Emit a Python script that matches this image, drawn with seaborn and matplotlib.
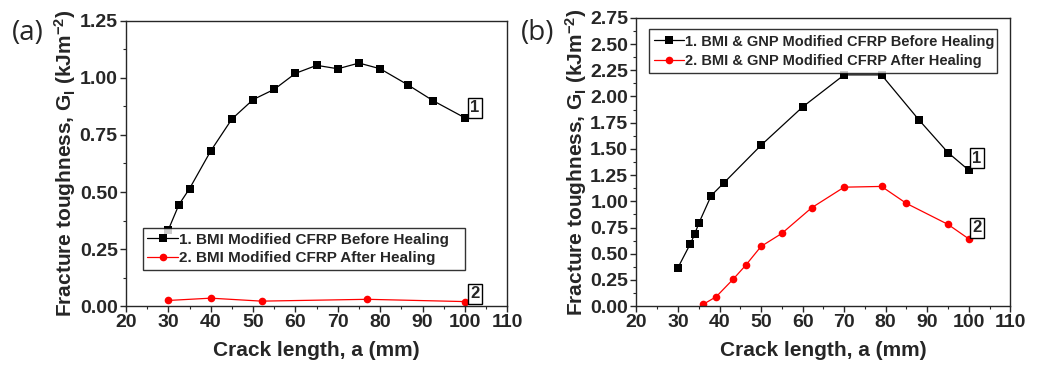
import pandas as pd
import matplotlib.pyplot as plt
import seaborn as sns
from matplotlib.ticker import MultipleLocator

# panel (a): BMI modified CFRP
a_before_x = [30, 32.5, 35, 40, 45, 50, 55, 60, 65, 70, 75, 80, 86.5, 92.5, 100]
a_before_y = [0.335, 0.445, 0.515, 0.68, 0.82, 0.905, 0.95, 1.02, 1.055, 1.04, 1.065, 1.04, 0.97, 0.90, 0.825]
a_after_x = [30, 40, 52, 77, 100]
a_after_y = [0.025, 0.035, 0.022, 0.030, 0.020]

# panel (b): BMI & GNP modified CFRP
b_before_x = [30, 33, 34, 35, 38, 41, 50, 60, 70, 79, 88, 95, 100]
b_before_y = [0.368, 0.597, 0.684, 0.79, 1.055, 1.174, 1.535, 1.90, 2.206, 2.206, 1.777, 1.465, 1.297]
b_after_x = [36, 39.2, 43.3, 46.3, 50, 55, 62.2, 70, 79, 85, 95, 100]
b_after_y = [0.016, 0.09, 0.258, 0.39, 0.57, 0.694, 0.939, 1.135, 1.142, 0.98, 0.78, 0.642]

labels_a = ['1. BMI Modified CFRP Before Healing', '2. BMI Modified CFRP After Healing']
labels_b = ['1. BMI & GNP Modified CFRP Before Healing', '2. BMI & GNP Modified CFRP After Healing']

sns.set_style('ticks')
plt.rcParams['font.family'] = ['Liberation Sans', 'DejaVu Sans']
plt.rcParams['font.weight'] = 'bold'
plt.rcParams['mathtext.fontset'] = 'custom'
plt.rcParams['mathtext.rm'] = 'Liberation Sans:bold'
plt.rcParams['mathtext.bf'] = 'Liberation Sans:bold'
plt.rcParams['mathtext.default'] = 'bf'

fig = plt.figure(figsize=(10.59, 3.72), dpi=100)
ax1 = fig.add_axes([0.119, 0.177, 0.360, 0.767])
ax2 = fig.add_axes([0.601, 0.177, 0.353, 0.775])


def draw(ax, bx, by, rx, ry, labels):
    df = pd.DataFrame({
        'x': list(bx) + list(rx),
        'y': list(by) + list(ry),
        'series': [labels[0]] * len(bx) + [labels[1]] * len(rx),
    })
    sns.lineplot(data=df, x='x', y='y', hue='series', style='series',
                 palette={labels[0]: 'black', labels[1]: 'red'},
                 markers={labels[0]: 's', labels[1]: 'o'},
                 dashes=False, markersize=5.5, markeredgewidth=0,
                 linewidth=0.9, sort=False, ax=ax)


draw(ax1, a_before_x, a_before_y, a_after_x, a_after_y, labels_a)
draw(ax2, b_before_x, b_before_y, b_after_x, b_after_y, labels_b)

for ax, ymax in [(ax1, 1.25), (ax2, 2.75)]:
    ax.set_xlim(20, 110)
    ax.set_ylim(0, ymax)
    ax.xaxis.set_major_locator(MultipleLocator(10))
    ax.xaxis.set_minor_locator(MultipleLocator(5))
    ax.yaxis.set_major_locator(MultipleLocator(0.25))
    ax.yaxis.set_minor_locator(MultipleLocator(0.125))
    ax.yaxis.set_major_formatter(plt.FormatStrFormatter('%.2f'))
    ax.tick_params(which='major', length=4, width=1, labelsize=14, pad=2)
    ax.tick_params(which='minor', length=2.5, width=0.8)
    for s in ax.spines.values():
        s.set_visible(True)
        s.set_linewidth(1)
    ax.set_xlabel('Crack length, a (mm)', fontsize=15, fontweight='bold', labelpad=7)
    ax.set_ylabel(r'Fracture toughness, G$_\mathregular{I}$ (kJm$^{-2}$)',
                  fontsize=15, fontweight='bold', labelpad=1)

leg1 = ax1.legend(loc='lower left', bbox_to_anchor=(0.024, 0.10, 0.885, 0.145),
                  mode='expand', fontsize=11, frameon=True, fancybox=False,
                  edgecolor='black', handlelength=2.0, borderpad=0.3,
                  labelspacing=0.3, handletextpad=0.1)
leg2 = ax2.legend(loc='upper left', bbox_to_anchor=(0.015, 0.985, 0.97, 0.0),
                  mode='expand', fontsize=10.5, frameon=True, fancybox=False,
                  edgecolor='black', handlelength=2.0, borderpad=0.35,
                  labelspacing=0.35, handletextpad=0.1)
for leg in (leg1, leg2):
    leg.get_frame().set_linewidth(1)
    leg.set_title(None)

box = dict(boxstyle='square,pad=0.15', fc='white', ec='black', lw=1)
ax1.text(102.3, 0.87, '1', fontsize=12, fontweight='bold', ha='center', va='center', bbox=box)
ax1.text(102.3, 0.055, '2', fontsize=12, fontweight='bold', ha='center', va='center', bbox=box)
ax2.text(102.0, 1.41, '1', fontsize=12, fontweight='bold', ha='center', va='center', bbox=box)
ax2.text(102.0, 0.75, '2', fontsize=12, fontweight='bold', ha='center', va='center', bbox=box)

fig.text(0.011, 0.948, '(a)', fontsize=20, fontweight='normal', family='Open Sans', va='top')
fig.text(0.492, 0.948, '(b)', fontsize=20, fontweight='normal', family='Open Sans', va='top')

plt.savefig('out.png', dpi=100)
